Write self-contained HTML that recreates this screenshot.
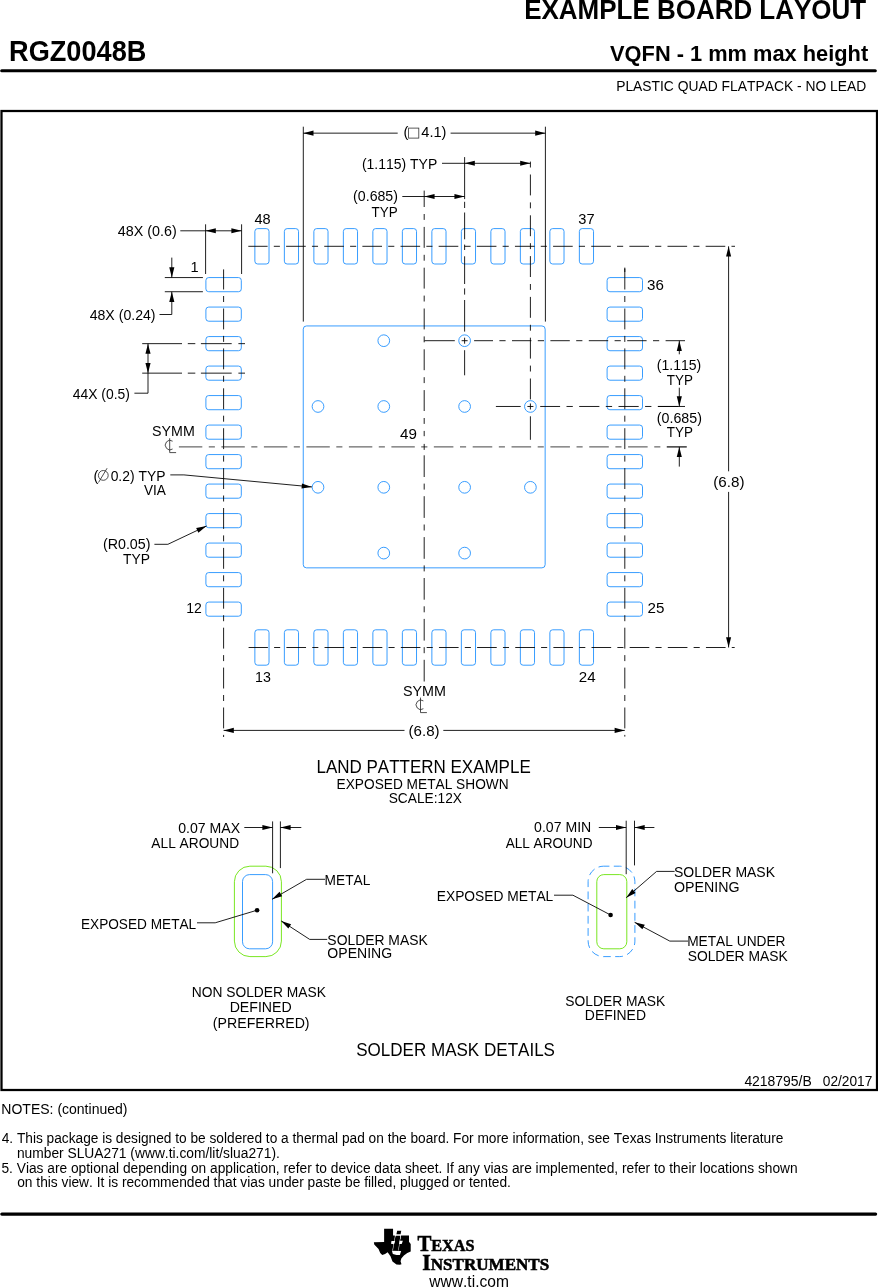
<!DOCTYPE html>
<html lang="en">
<head>
<meta charset="utf-8">
<title>RGZ0048B - Example Board Layout</title>
<style>
html,body{margin:0;padding:0;background:#fff;}
body{width:878px;height:1288px;overflow:hidden;}
svg{display:block;will-change:transform;font-family:"Liberation Sans",sans-serif;font-kerning:none;fill:#000;}
svg text{white-space:pre;}
</style>
</head>
<body>
<svg width="878" height="1288" viewBox="0 0 878 1288">
<rect x="0" y="0" width="878" height="1288" fill="#fff" stroke="none"/>
<text x="524.16" y="18.8" font-size="27.7" font-weight="bold" textLength="341.97" lengthAdjust="spacingAndGlyphs">EXAMPLE BOARD LAYOUT</text>
<text x="9.08" y="60.9" font-size="29" font-weight="bold" textLength="137.25" lengthAdjust="spacingAndGlyphs">RGZ0048B</text>
<text x="610.05" y="60.75" font-size="22.6" font-weight="bold" textLength="258.12" lengthAdjust="spacingAndGlyphs">VQFN - 1 mm max height</text>
<line x1="1.7" y1="70.65" x2="875.3" y2="70.65" stroke="#000" stroke-width="3.05" stroke-linecap="round"/>
<text x="616.16" y="90.7" font-size="14.6" textLength="250.1" lengthAdjust="spacingAndGlyphs">PLASTIC QUAD FLATPACK - NO LEAD</text>
<rect x="1.5" y="111" width="875.5" height="979" fill="none" stroke="#000" stroke-width="2.25"/>
<text x="744.38" y="1085.5" font-size="14.6" textLength="67.35" lengthAdjust="spacingAndGlyphs">4218795/B</text>
<text x="822.76" y="1085.5" font-size="14.6" textLength="49.63" lengthAdjust="spacingAndGlyphs">02/2017</text>
<text x="1.35" y="1113.9" font-size="14.2" textLength="126.12" lengthAdjust="spacingAndGlyphs">NOTES: (continued)</text>
<text x="1.69" y="1142.7" font-size="14" textLength="781.72" lengthAdjust="spacingAndGlyphs">4. This package is designed to be soldered to a thermal pad on the board. For more information, see Texas Instruments literature</text>
<text x="16.88" y="1157.6" font-size="14" textLength="262.98" lengthAdjust="spacingAndGlyphs">number SLUA271 (www.ti.com/lit/slua271).</text>
<text x="1.45" y="1172.7" font-size="14" textLength="796.24" lengthAdjust="spacingAndGlyphs">5. Vias are optional depending on application, refer to device data sheet. If any vias are implemented, refer to their locations shown</text>
<text x="17.22" y="1186.6" font-size="14" textLength="493.73" lengthAdjust="spacingAndGlyphs">on this view. It is recommended that vias under paste be filled, plugged or tented.</text>
<line x1="1.8" y1="1214.1" x2="875.6" y2="1214.1" stroke="#000" stroke-width="3.2" stroke-linecap="round"/>
<polygon points="384.12,1228.83 393.06,1228.83 393.06,1235.38 394.77,1235.38 394.99,1236.92 395.9,1235.67 400.23,1235.67 400.57,1239.08 401.03,1239.08 401.03,1235.38 409,1235.38 409,1241.65 410.71,1243.92 410.71,1251.61 407.29,1253.04 403.88,1255.6 401.31,1258.45 400.57,1261.29 401.49,1264.14 399.89,1264.82 396.47,1264.6 392.49,1261.58 390.49,1256.17 387.65,1252.18 385.08,1253.89 382.24,1254.92 380.24,1253.04 378.54,1249.05 374.26,1244.49 373.87,1242.22 384.12,1242.05" fill="#000"/>
<polygon points="397.16,1230.83 401.26,1230.83 400.57,1234.3 396.47,1234.3" fill="#000"/>
<polygon points="391.46,1241.08 395.11,1241.08 393.97,1244.32 391.01,1243.64" fill="#fff"/>
<polygon points="399.66,1240.79 402.85,1240.79 401.71,1244.1 399.04,1244.1" fill="#fff"/>
<polygon points="391.92,1250.82 401.14,1251.1 399.89,1255.03 396.47,1255.03 392.83,1253.89" fill="#fff"/>
<polygon points="394.94,1236.24 395.45,1236.24 392.89,1250.47 392.37,1250.47" fill="#fff"/>
<polygon points="400.35,1236.24 400.8,1236.24 398.64,1250.47 398.18,1250.47" fill="#fff"/>
<text x="417.4" y="1250.6" font-family='"Liberation Serif", serif' font-weight="bold" stroke="#000" stroke-width="0.55" textLength="57.2" lengthAdjust="spacingAndGlyphs"><tspan font-size="22.6">T</tspan><tspan font-size="17.6">EXAS</tspan></text>
<text x="422.2" y="1270.3" font-family='"Liberation Serif", serif' font-weight="bold" stroke="#000" stroke-width="0.55" textLength="127.0" lengthAdjust="spacingAndGlyphs"><tspan font-size="22.6">I</tspan><tspan font-size="17.6">NSTRUMENTS</tspan></text>
<text x="429.32" y="1286.9" font-size="15.6" textLength="79.6" lengthAdjust="spacingAndGlyphs">www.ti.com</text>
<g id="pads">
<rect x="205.9" y="277.57" width="35.4" height="14.16" rx="2.8" ry="2.8" fill="none" stroke="#1e90ff" stroke-width="0.88"/>
<rect x="607.1" y="277.57" width="35.4" height="14.16" rx="2.8" ry="2.8" fill="none" stroke="#1e90ff" stroke-width="0.88"/>
<rect x="254.87" y="228.6" width="14.16" height="35.4" rx="2.8" ry="2.8" fill="none" stroke="#1e90ff" stroke-width="0.88"/>
<rect x="254.87" y="629.8" width="14.16" height="35.4" rx="2.8" ry="2.8" fill="none" stroke="#1e90ff" stroke-width="0.88"/>
<rect x="205.9" y="307.07" width="35.4" height="14.16" rx="2.8" ry="2.8" fill="none" stroke="#1e90ff" stroke-width="0.88"/>
<rect x="607.1" y="307.07" width="35.4" height="14.16" rx="2.8" ry="2.8" fill="none" stroke="#1e90ff" stroke-width="0.88"/>
<rect x="284.37" y="228.6" width="14.16" height="35.4" rx="2.8" ry="2.8" fill="none" stroke="#1e90ff" stroke-width="0.88"/>
<rect x="284.37" y="629.8" width="14.16" height="35.4" rx="2.8" ry="2.8" fill="none" stroke="#1e90ff" stroke-width="0.88"/>
<rect x="205.9" y="336.57" width="35.4" height="14.16" rx="2.8" ry="2.8" fill="none" stroke="#1e90ff" stroke-width="0.88"/>
<rect x="607.1" y="336.57" width="35.4" height="14.16" rx="2.8" ry="2.8" fill="none" stroke="#1e90ff" stroke-width="0.88"/>
<rect x="313.87" y="228.6" width="14.16" height="35.4" rx="2.8" ry="2.8" fill="none" stroke="#1e90ff" stroke-width="0.88"/>
<rect x="313.87" y="629.8" width="14.16" height="35.4" rx="2.8" ry="2.8" fill="none" stroke="#1e90ff" stroke-width="0.88"/>
<rect x="205.9" y="366.07" width="35.4" height="14.16" rx="2.8" ry="2.8" fill="none" stroke="#1e90ff" stroke-width="0.88"/>
<rect x="607.1" y="366.07" width="35.4" height="14.16" rx="2.8" ry="2.8" fill="none" stroke="#1e90ff" stroke-width="0.88"/>
<rect x="343.37" y="228.6" width="14.16" height="35.4" rx="2.8" ry="2.8" fill="none" stroke="#1e90ff" stroke-width="0.88"/>
<rect x="343.37" y="629.8" width="14.16" height="35.4" rx="2.8" ry="2.8" fill="none" stroke="#1e90ff" stroke-width="0.88"/>
<rect x="205.9" y="395.57" width="35.4" height="14.16" rx="2.8" ry="2.8" fill="none" stroke="#1e90ff" stroke-width="0.88"/>
<rect x="607.1" y="395.57" width="35.4" height="14.16" rx="2.8" ry="2.8" fill="none" stroke="#1e90ff" stroke-width="0.88"/>
<rect x="372.87" y="228.6" width="14.16" height="35.4" rx="2.8" ry="2.8" fill="none" stroke="#1e90ff" stroke-width="0.88"/>
<rect x="372.87" y="629.8" width="14.16" height="35.4" rx="2.8" ry="2.8" fill="none" stroke="#1e90ff" stroke-width="0.88"/>
<rect x="205.9" y="425.07" width="35.4" height="14.16" rx="2.8" ry="2.8" fill="none" stroke="#1e90ff" stroke-width="0.88"/>
<rect x="607.1" y="425.07" width="35.4" height="14.16" rx="2.8" ry="2.8" fill="none" stroke="#1e90ff" stroke-width="0.88"/>
<rect x="402.37" y="228.6" width="14.16" height="35.4" rx="2.8" ry="2.8" fill="none" stroke="#1e90ff" stroke-width="0.88"/>
<rect x="402.37" y="629.8" width="14.16" height="35.4" rx="2.8" ry="2.8" fill="none" stroke="#1e90ff" stroke-width="0.88"/>
<rect x="205.9" y="454.57" width="35.4" height="14.16" rx="2.8" ry="2.8" fill="none" stroke="#1e90ff" stroke-width="0.88"/>
<rect x="607.1" y="454.57" width="35.4" height="14.16" rx="2.8" ry="2.8" fill="none" stroke="#1e90ff" stroke-width="0.88"/>
<rect x="431.87" y="228.6" width="14.16" height="35.4" rx="2.8" ry="2.8" fill="none" stroke="#1e90ff" stroke-width="0.88"/>
<rect x="431.87" y="629.8" width="14.16" height="35.4" rx="2.8" ry="2.8" fill="none" stroke="#1e90ff" stroke-width="0.88"/>
<rect x="205.9" y="484.07" width="35.4" height="14.16" rx="2.8" ry="2.8" fill="none" stroke="#1e90ff" stroke-width="0.88"/>
<rect x="607.1" y="484.07" width="35.4" height="14.16" rx="2.8" ry="2.8" fill="none" stroke="#1e90ff" stroke-width="0.88"/>
<rect x="461.37" y="228.6" width="14.16" height="35.4" rx="2.8" ry="2.8" fill="none" stroke="#1e90ff" stroke-width="0.88"/>
<rect x="461.37" y="629.8" width="14.16" height="35.4" rx="2.8" ry="2.8" fill="none" stroke="#1e90ff" stroke-width="0.88"/>
<rect x="205.9" y="513.57" width="35.4" height="14.16" rx="2.8" ry="2.8" fill="none" stroke="#1e90ff" stroke-width="0.88"/>
<rect x="607.1" y="513.57" width="35.4" height="14.16" rx="2.8" ry="2.8" fill="none" stroke="#1e90ff" stroke-width="0.88"/>
<rect x="490.87" y="228.6" width="14.16" height="35.4" rx="2.8" ry="2.8" fill="none" stroke="#1e90ff" stroke-width="0.88"/>
<rect x="490.87" y="629.8" width="14.16" height="35.4" rx="2.8" ry="2.8" fill="none" stroke="#1e90ff" stroke-width="0.88"/>
<rect x="205.9" y="543.07" width="35.4" height="14.16" rx="2.8" ry="2.8" fill="none" stroke="#1e90ff" stroke-width="0.88"/>
<rect x="607.1" y="543.07" width="35.4" height="14.16" rx="2.8" ry="2.8" fill="none" stroke="#1e90ff" stroke-width="0.88"/>
<rect x="520.37" y="228.6" width="14.16" height="35.4" rx="2.8" ry="2.8" fill="none" stroke="#1e90ff" stroke-width="0.88"/>
<rect x="520.37" y="629.8" width="14.16" height="35.4" rx="2.8" ry="2.8" fill="none" stroke="#1e90ff" stroke-width="0.88"/>
<rect x="205.9" y="572.57" width="35.4" height="14.16" rx="2.8" ry="2.8" fill="none" stroke="#1e90ff" stroke-width="0.88"/>
<rect x="607.1" y="572.57" width="35.4" height="14.16" rx="2.8" ry="2.8" fill="none" stroke="#1e90ff" stroke-width="0.88"/>
<rect x="549.87" y="228.6" width="14.16" height="35.4" rx="2.8" ry="2.8" fill="none" stroke="#1e90ff" stroke-width="0.88"/>
<rect x="549.87" y="629.8" width="14.16" height="35.4" rx="2.8" ry="2.8" fill="none" stroke="#1e90ff" stroke-width="0.88"/>
<rect x="205.9" y="602.07" width="35.4" height="14.16" rx="2.8" ry="2.8" fill="none" stroke="#1e90ff" stroke-width="0.88"/>
<rect x="607.1" y="602.07" width="35.4" height="14.16" rx="2.8" ry="2.8" fill="none" stroke="#1e90ff" stroke-width="0.88"/>
<rect x="579.37" y="228.6" width="14.16" height="35.4" rx="2.8" ry="2.8" fill="none" stroke="#1e90ff" stroke-width="0.88"/>
<rect x="579.37" y="629.8" width="14.16" height="35.4" rx="2.8" ry="2.8" fill="none" stroke="#1e90ff" stroke-width="0.88"/>
<rect x="303.25" y="325.95" width="241.9" height="241.9" rx="3.2" ry="3.2" fill="none" stroke="#1e90ff" stroke-width="0.88"/>
<circle cx="383.78" cy="340.7" r="5.85" fill="none" stroke="#1e90ff" stroke-width="0.88"/>
<circle cx="464.62" cy="340.7" r="5.85" fill="none" stroke="#1e90ff" stroke-width="0.88"/>
<circle cx="318" cy="406.48" r="5.85" fill="none" stroke="#1e90ff" stroke-width="0.88"/>
<circle cx="383.78" cy="406.48" r="5.85" fill="none" stroke="#1e90ff" stroke-width="0.88"/>
<circle cx="464.62" cy="406.48" r="5.85" fill="none" stroke="#1e90ff" stroke-width="0.88"/>
<circle cx="530.4" cy="406.48" r="5.85" fill="none" stroke="#1e90ff" stroke-width="0.88"/>
<circle cx="318" cy="487.31" r="5.85" fill="none" stroke="#1e90ff" stroke-width="0.88"/>
<circle cx="383.78" cy="487.31" r="5.85" fill="none" stroke="#1e90ff" stroke-width="0.88"/>
<circle cx="464.62" cy="487.31" r="5.85" fill="none" stroke="#1e90ff" stroke-width="0.88"/>
<circle cx="530.4" cy="487.31" r="5.85" fill="none" stroke="#1e90ff" stroke-width="0.88"/>
<circle cx="383.78" cy="553.1" r="5.85" fill="none" stroke="#1e90ff" stroke-width="0.88"/>
<circle cx="464.62" cy="553.1" r="5.85" fill="none" stroke="#1e90ff" stroke-width="0.88"/>
</g>
<g id="lines">
<path d="M248.3 246.3H267.6M273.8 246.3H279.9M286.1 246.3H305.74M311.94 246.3H318.04M324.24 246.3H343.88M350.08 246.3H356.18M362.38 246.3H382.02M388.22 246.3H394.32M400.52 246.3H420.16M426.36 246.3H432.46M438.66 246.3H458.3M464.5 246.3H470.6M476.8 246.3H496.44M502.64 246.3H508.74M514.94 246.3H534.58M540.78 246.3H546.88M553.08 246.3H572.72M578.92 246.3H585.02M591.22 246.3H610.86M617.06 246.3H623.16M629.36 246.3H649M655.2 246.3H661.3M667.5 246.3H687.14M693.34 246.3H699.44M705.64 246.3H725.28M731.48 246.3H735" fill="none" stroke="#000" stroke-width="0.88"/>
<path d="M248.6 647.5H267.9M274.1 647.5H280.2M286.4 647.5H306.04M312.24 647.5H318.34M324.54 647.5H344.18M350.38 647.5H356.48M362.68 647.5H382.32M388.52 647.5H394.62M400.82 647.5H420.46M426.66 647.5H432.76M438.96 647.5H458.6M464.8 647.5H470.9M477.1 647.5H496.74M502.94 647.5H509.04M515.24 647.5H534.88M541.08 647.5H547.18M553.38 647.5H573.02M579.22 647.5H585.32M591.52 647.5H611.16M617.36 647.5H623.46M629.66 647.5H649.3M655.5 647.5H661.6M667.8 647.5H687.44M693.64 647.5H699.74M705.94 647.5H725.58M731.78 647.5H734.7" fill="none" stroke="#000" stroke-width="0.88"/>
<path d="M223.6 269.4V289.5M223.6 296V302M223.6 308.5V329.4M223.6 335.9V341.9M223.6 348.4V369.3M223.6 375.8V381.8M223.6 388.3V409.2M223.6 415.7V421.7M223.6 428.2V449.1M223.6 455.6V461.6M223.6 468.1V489M223.6 495.5V501.5M223.6 508V528.9M223.6 535.4V541.4M223.6 547.9V568.8M223.6 575.3V581.3M223.6 587.8V608.7M223.6 615.2V621.2M223.6 627.7V648.6M223.6 655.1V661.1M223.6 667.6V688.5M223.6 695V701M223.6 707.5V728.4M223.6 734.9V737" fill="none" stroke="#000" stroke-width="0.88"/>
<path d="M624.8 268.6V289.5M624.8 296V302M624.8 308.5V329.4M624.8 335.9V341.9M624.8 348.4V369.3M624.8 375.8V381.8M624.8 388.3V409.2M624.8 415.7V421.7M624.8 428.2V449.1M624.8 455.6V461.6M624.8 468.1V489M624.8 495.5V501.5M624.8 508V528.9M624.8 535.4V541.4M624.8 547.9V568.8M624.8 575.3V581.3M624.8 587.8V608.7M624.8 615.2V621.2M624.8 627.7V648.6M624.8 655.1V661.1M624.8 667.6V688.5M624.8 695V701M624.8 707.5V728.4M624.8 734.9V736.6" fill="none" stroke="#000" stroke-width="0.88"/>
<line x1="624.8" y1="267.6" x2="624.8" y2="272" stroke="#000" stroke-width="0.88"/>
<path d="M178.9 446.9H202.3M208.8 446.9H214.9M221.4 446.9H244.8M251.3 446.9H257.4M263.9 446.9H287.3M293.8 446.9H299.9M306.4 446.9H329.8M336.3 446.9H342.4M348.9 446.9H372.3M378.8 446.9H384.9M391.4 446.9H414.8" fill="none" stroke="#1a1a1a" stroke-width="0.82"/>
<line x1="421.2" y1="446.9" x2="427.4" y2="446.9" stroke="#1a1a1a" stroke-width="0.82"/>
<path d="M433.85 446.9H453.4M460 446.9H466.1M472.7 446.9H492.25M498.85 446.9H504.95M511.55 446.9H531.1M537.7 446.9H543.8M550.4 446.9H569.95M576.55 446.9H582.65M589.25 446.9H608.8M615.4 446.9H621.5M628.1 446.9H647.65M654.25 446.9H660.35M666.95 446.9H686.5" fill="none" stroke="#1a1a1a" stroke-width="0.82"/>
<line x1="666.7" y1="446.9" x2="686.9" y2="446.9" stroke="#1a1a1a" stroke-width="0.82"/>
<path d="M424.2 190.6V207M424.2 214V219.9M424.2 226.9V247.8M424.2 254.8V260.7M424.2 267.7V288.6M424.2 295.6V301.5M424.2 308.5V329.4M424.2 336.4V342.3M424.2 349.3V370.2M424.2 377.2V383.1M424.2 390.1V411M424.2 418V423.9M424.2 430.9V436.2" fill="none" stroke="#000" stroke-width="0.88"/>
<line x1="424.2" y1="443.9" x2="424.2" y2="449.9" stroke="#000" stroke-width="0.88"/>
<path d="M424.2 455.3V477M424.2 483.6V489.6M424.2 496.2V517.9M424.2 524.5V530.5M424.2 537.1V558.8M424.2 565.4V571.4M424.2 578V599.7M424.2 606.3V612.3M424.2 618.9V640.6M424.2 647.2V653.2M424.2 659.8V681.5" fill="none" stroke="#000" stroke-width="0.88"/>
<line x1="303.3" y1="126.7" x2="303.3" y2="321.6" stroke="#000" stroke-width="0.88"/>
<line x1="545.4" y1="126.7" x2="545.4" y2="321.6" stroke="#000" stroke-width="0.88"/>
<line x1="303.3" y1="133.15" x2="397.7" y2="133.15" stroke="#000" stroke-width="0.88"/>
<line x1="450.6" y1="133.15" x2="545.4" y2="133.15" stroke="#000" stroke-width="0.88"/>
<polygon points="303.3,133.15 313.5,130.6 313.5,135.7" fill="#000"/>
<polygon points="545.4,133.15 535.2,135.7 535.2,130.6" fill="#000"/>
<path d="M464.62 157.1V199.1M464.62 201.8V208M464.62 212.5V239.3M464.62 244.6V250M464.62 256.3V284M464.62 288.4V294.6M464.62 300V331.6" fill="none" stroke="#000" stroke-width="0.88"/>
<path d="M530.4 161.6V167.5M530.4 174.5V195.4M530.4 202.4V208.3M530.4 215.3V236.2M530.4 243.2V249.1M530.4 256.1V277M530.4 284V289.9M530.4 296.9V317.8M530.4 324.8V330.7M530.4 337.7V358.6M530.4 365.6V371.5M530.4 378.5V399.4" fill="none" stroke="#000" stroke-width="0.88"/>
<line x1="442" y1="163.3" x2="530.4" y2="163.3" stroke="#000" stroke-width="0.88"/>
<polygon points="464.62,163.3 474.81,160.75 474.81,165.85" fill="#000"/>
<polygon points="530.4,163.3 520.2,165.85 520.2,160.75" fill="#000"/>
<line x1="402.3" y1="196.5" x2="464.62" y2="196.5" stroke="#000" stroke-width="0.88"/>
<polygon points="424.35,196.5 434.55,193.95 434.55,199.05" fill="#000"/>
<polygon points="464.62,196.5 454.42,199.05 454.42,193.95" fill="#000"/>
<line x1="424.4" y1="340.7" x2="454.8" y2="340.7" stroke="#000" stroke-width="0.88"/>
<path d="M474.1 340.7H493M499.4 340.7H505.6M512 340.7H531.4M537.8 340.7H544M550.4 340.7H569.8M576.2 340.7H582.4M588.8 340.7H608.2M614.6 340.7H620.8M627.2 340.7H646.6M653 340.7H659.2M665.6 340.7H685" fill="none" stroke="#000" stroke-width="0.88"/>
<line x1="464.62" y1="350.2" x2="464.62" y2="375.3" stroke="#000" stroke-width="0.88"/>
<line x1="461.62" y1="340.7" x2="467.62" y2="340.7" stroke="#000" stroke-width="0.9"/>
<line x1="464.62" y1="337.7" x2="464.62" y2="343.7" stroke="#000" stroke-width="0.9"/>
<line x1="495.9" y1="406.48" x2="520.7" y2="406.48" stroke="#000" stroke-width="0.88"/>
<path d="M540.2 406.48H560.1M566.5 406.48H572.8M579.2 406.48H599.4M605.8 406.48H612.1M618.5 406.48H638.7M645.1 406.48H651.4M657.8 406.48H678M684.4 406.48H684.9" fill="none" stroke="#000" stroke-width="0.88"/>
<line x1="658" y1="406.48" x2="684.9" y2="406.48" stroke="#000" stroke-width="0.88"/>
<line x1="530.4" y1="416.3" x2="530.4" y2="439.8" stroke="#000" stroke-width="0.88"/>
<line x1="527.4" y1="406.48" x2="533.4" y2="406.48" stroke="#000" stroke-width="0.9"/>
<line x1="530.4" y1="403.48" x2="530.4" y2="409.48" stroke="#000" stroke-width="0.9"/>
<line x1="679.3" y1="340.7" x2="679.3" y2="354.3" stroke="#000" stroke-width="0.88"/>
<polygon points="679.3,340.7 681.85,350.9 676.75,350.9" fill="#000"/>
<line x1="679.3" y1="387.7" x2="679.3" y2="406.48" stroke="#000" stroke-width="0.88"/>
<polygon points="679.3,406.48 676.75,396.28 681.85,396.28" fill="#000"/>
<line x1="679.3" y1="446.9" x2="679.3" y2="466.6" stroke="#000" stroke-width="0.88"/>
<polygon points="679.3,446.9 681.85,457.1 676.75,457.1" fill="#000"/>
<line x1="728.6" y1="246.3" x2="728.6" y2="471.3" stroke="#000" stroke-width="0.88"/>
<line x1="728.6" y1="491.9" x2="728.6" y2="647.5" stroke="#000" stroke-width="0.88"/>
<polygon points="728.6,246.3 731.15,256.5 726.05,256.5" fill="#000"/>
<polygon points="728.6,647.5 726.05,637.3 731.15,637.3" fill="#000"/>
<line x1="223.6" y1="730.4" x2="404.5" y2="730.4" stroke="#000" stroke-width="0.88"/>
<line x1="443.3" y1="730.4" x2="624.8" y2="730.4" stroke="#000" stroke-width="0.88"/>
<polygon points="223.6,730.4 233.8,727.85 233.8,732.95" fill="#000"/>
<polygon points="624.8,730.4 614.6,732.95 614.6,727.85" fill="#000"/>
<line x1="205.6" y1="224.3" x2="205.6" y2="274" stroke="#000" stroke-width="0.88"/>
<line x1="241.6" y1="224.3" x2="241.6" y2="274" stroke="#000" stroke-width="0.88"/>
<line x1="180.3" y1="230.8" x2="241.6" y2="230.8" stroke="#000" stroke-width="0.88"/>
<polygon points="205.6,230.8 215.8,228.25 215.8,233.35" fill="#000"/>
<polygon points="241.6,230.8 231.4,233.35 231.4,228.25" fill="#000"/>
<line x1="164.8" y1="277.57" x2="202.9" y2="277.57" stroke="#000" stroke-width="0.88"/>
<line x1="164.8" y1="291.73" x2="202.9" y2="291.73" stroke="#000" stroke-width="0.88"/>
<line x1="171.8" y1="257.6" x2="171.8" y2="277.57" stroke="#000" stroke-width="0.88"/>
<polygon points="171.8,277.57 169.25,267.37 174.35,267.37" fill="#000"/>
<polyline points="171.8,291.73 171.8,314.5 159.5,314.5" fill="none" stroke="#000" stroke-width="0.88"/>
<polygon points="171.8,291.73 174.35,301.93 169.25,301.93" fill="#000"/>
<path d="M142.2 343.65H182M187.8 343.65H195.3M200.9 343.65H231.7M238.4 343.65H245" fill="none" stroke="#000" stroke-width="0.88"/>
<path d="M142.2 373.15H182M187.8 373.15H195.3M200.9 373.15H231.7M238.4 373.15H245" fill="none" stroke="#000" stroke-width="0.88"/>
<polyline points="148,343.65 148,393.2 134.4,393.2" fill="none" stroke="#000" stroke-width="0.88"/>
<polygon points="148,343.65 150.55,353.85 145.45,353.85" fill="#000"/>
<polygon points="148,373.15 145.45,362.95 150.55,362.95" fill="#000"/>
<polyline points="170.3,474.9 183.9,474.9 311.9,486.9" fill="none" stroke="#000" stroke-width="0.88"/>
<polygon points="311.9,486.9 301.51,488.49 301.98,483.41" fill="#000"/>
<polyline points="154.4,544.3 167.9,544.3 206.5,526" fill="none" stroke="#000" stroke-width="0.88"/>
<polygon points="206.5,526 198.38,532.67 196.19,528.07" fill="#000"/>
</g>
<g id="labels">
<text x="403.4" y="137.4" font-size="14.6">(</text>
<rect x="408.6" y="128.1" width="10.2" height="10" fill="none" stroke="#333" stroke-width="0.8"/>
<text x="421.26" y="137.4" font-size="14.6" textLength="25.24" lengthAdjust="spacingAndGlyphs">4.1)</text>
<text x="361.93" y="168.5" font-size="14.6" textLength="75.3" lengthAdjust="spacingAndGlyphs">(1.115) TYP</text>
<text x="353.12" y="201.1" font-size="14.6" textLength="44.86" lengthAdjust="spacingAndGlyphs">(0.685)</text>
<text x="371.59" y="216.6" font-size="14.6" textLength="26.12" lengthAdjust="spacingAndGlyphs">TYP</text>
<text x="254.47" y="223.8" font-size="14.6" textLength="16.17" lengthAdjust="spacingAndGlyphs">48</text>
<text x="578.24" y="223.8" font-size="14.6" textLength="16.29" lengthAdjust="spacingAndGlyphs">37</text>
<text x="117.77" y="235.6" font-size="14.6" textLength="58.92" lengthAdjust="spacingAndGlyphs">48X (0.6)</text>
<text x="190.4" y="271.9" font-size="14.6">1</text>
<text x="89.68" y="319.8" font-size="14.6" textLength="65.9" lengthAdjust="spacingAndGlyphs">48X (0.24)</text>
<text x="72.68" y="399" font-size="14.6" textLength="57.18" lengthAdjust="spacingAndGlyphs">44X (0.5)</text>
<text x="152.05" y="435.8" font-size="14.6" textLength="42.71" lengthAdjust="spacingAndGlyphs">SYMM</text>
<path d="M172.6 441.2A4.6 4.8 0 1 0 172.6 449" fill="none" stroke="#222" stroke-width="0.8"/>
<path d="M169.7 438.2V452.6H176.1" fill="none" stroke="#222" stroke-width="0.8"/>
<text x="93.4" y="480.6" font-size="14.6">(</text>
<circle cx="103.3" cy="475.4" r="4.9" fill="none" stroke="#222" stroke-width="0.8"/>
<line x1="98.5" y1="482.5" x2="107.1" y2="468.2" stroke="#222" stroke-width="0.8"/>
<text x="110.66" y="480.6" font-size="14.6" textLength="54.77" lengthAdjust="spacingAndGlyphs">0.2) TYP</text>
<text x="143.94" y="494.6" font-size="14.6" textLength="21.99" lengthAdjust="spacingAndGlyphs">VIA</text>
<text x="102.92" y="549.1" font-size="14.6" textLength="47.57" lengthAdjust="spacingAndGlyphs">(R0.05)</text>
<text x="122.99" y="563.5" font-size="14.6" textLength="26.94" lengthAdjust="spacingAndGlyphs">TYP</text>
<text x="186.13" y="613.1" font-size="14.6" textLength="15.57" lengthAdjust="spacingAndGlyphs">12</text>
<text x="255.02" y="681.5" font-size="14.6" textLength="15.81" lengthAdjust="spacingAndGlyphs">13</text>
<text x="578.74" y="681.5" font-size="14.6" textLength="16.8" lengthAdjust="spacingAndGlyphs">24</text>
<text x="647.59" y="613.3" font-size="14.6" textLength="16.89" lengthAdjust="spacingAndGlyphs">25</text>
<text x="647.12" y="289.5" font-size="14.6" textLength="16.84" lengthAdjust="spacingAndGlyphs">36</text>
<text x="400.04" y="438.5" font-size="14.6" textLength="16.89" lengthAdjust="spacingAndGlyphs">49</text>
<text x="656.83" y="370.1" font-size="14.6" textLength="44.44" lengthAdjust="spacingAndGlyphs">(1.115)</text>
<text x="666.79" y="384.7" font-size="14.6" textLength="26.12" lengthAdjust="spacingAndGlyphs">TYP</text>
<text x="656.82" y="423.3" font-size="14.6" textLength="45.06" lengthAdjust="spacingAndGlyphs">(0.685)</text>
<text x="666.79" y="437.4" font-size="14.6" textLength="26.12" lengthAdjust="spacingAndGlyphs">TYP</text>
<text x="713.29" y="487" font-size="14.6" textLength="31.22" lengthAdjust="spacingAndGlyphs">(6.8)</text>
<text x="408.56" y="735.6" font-size="14.6" textLength="31.07" lengthAdjust="spacingAndGlyphs">(6.8)</text>
<text x="402.95" y="695.7" font-size="14.6" textLength="43.03" lengthAdjust="spacingAndGlyphs">SYMM</text>
<path d="M423.4 700.9A4.6 4.8 0 1 0 423.4 708.7" fill="none" stroke="#222" stroke-width="0.8"/>
<path d="M420.5 697.6V712.6H426.9" fill="none" stroke="#222" stroke-width="0.8"/>
<text x="316.51" y="772.7" font-size="18.3" textLength="214.22" lengthAdjust="spacingAndGlyphs">LAND PATTERN EXAMPLE</text>
<text x="336.58" y="788.5" font-size="14.6" textLength="172.04" lengthAdjust="spacingAndGlyphs">EXPOSED METAL SHOWN</text>
<text x="388.68" y="803.3" font-size="14.6" textLength="73.31" lengthAdjust="spacingAndGlyphs">SCALE:12X</text>
</g>
<g id="details">
<rect x="234.4" y="866.2" width="47" height="90.4" rx="15.5" ry="15.5" fill="none" stroke="#68e205" stroke-width="0.88"/>
<rect x="242.5" y="874.6" width="30.1" height="74.2" rx="7" ry="7" fill="none" stroke="#1e90ff" stroke-width="0.88"/>
<line x1="272.6" y1="821.4" x2="272.6" y2="873.3" stroke="#000" stroke-width="0.88"/>
<line x1="280.4" y1="821.4" x2="280.4" y2="868.1" stroke="#000" stroke-width="0.88"/>
<line x1="244.3" y1="827.5" x2="272.6" y2="827.5" stroke="#000" stroke-width="0.88"/>
<polygon points="272.6,827.5 262.4,830.05 262.4,824.95" fill="#000"/>
<line x1="280.4" y1="827.5" x2="301.3" y2="827.5" stroke="#000" stroke-width="0.88"/>
<polygon points="280.4,827.5 290.6,824.95 290.6,830.05" fill="#000"/>
<text x="178.15" y="832.8" font-size="14.6" textLength="61.95" lengthAdjust="spacingAndGlyphs">0.07 MAX</text>
<text x="151.37" y="847.6" font-size="14.6" textLength="87.68" lengthAdjust="spacingAndGlyphs">ALL AROUND</text>
<circle cx="257.1" cy="910.2" r="2.3" fill="#000" stroke="#000" stroke-width="0"/>
<polyline points="257.1,910.2 215.2,922.8 197,922.8" fill="none" stroke="#000" stroke-width="0.88"/>
<text x="80.98" y="928.6" font-size="14.6" textLength="115.17" lengthAdjust="spacingAndGlyphs">EXPOSED METAL</text>
<polyline points="272.1,899.3 306.6,879.3 325,879.3" fill="none" stroke="#000" stroke-width="0.88"/>
<polygon points="272.1,899.3 279.54,891.87 282.16,896.24" fill="#000"/>
<text x="324.58" y="884.8" font-size="14.6" textLength="45.68" lengthAdjust="spacingAndGlyphs">METAL</text>
<polyline points="281.2,920.9 309.7,939.4 327.2,939.4" fill="none" stroke="#000" stroke-width="0.88"/>
<polygon points="281.2,920.9 291.14,924.31 288.37,928.59" fill="#000"/>
<text x="327.37" y="944.7" font-size="14.6" textLength="100.39" lengthAdjust="spacingAndGlyphs">SOLDER MASK</text>
<text x="327.33" y="957.9" font-size="14.6" textLength="64.82" lengthAdjust="spacingAndGlyphs">OPENING</text>
<text x="191.77" y="997" font-size="14.6" textLength="134.19" lengthAdjust="spacingAndGlyphs">NON SOLDER MASK</text>
<text x="229.64" y="1012.1" font-size="14.6" textLength="62.04" lengthAdjust="spacingAndGlyphs">DEFINED</text>
<text x="212.82" y="1027.6" font-size="14.6" textLength="96.76" lengthAdjust="spacingAndGlyphs">(PREFERRED)</text>
<rect x="588.1" y="866.2" width="46.8" height="90.4" rx="15.5" ry="15.5" fill="none" stroke="#1e90ff" stroke-width="0.88" stroke-dasharray="7.8 4.4" stroke-dashoffset="2"/>
<rect x="596.8" y="874.6" width="30" height="74.2" rx="7" ry="7" fill="none" stroke="#68e205" stroke-width="0.88"/>
<line x1="626.2" y1="820.7" x2="626.2" y2="874.2" stroke="#000" stroke-width="0.88"/>
<line x1="634.5" y1="820.7" x2="634.5" y2="865.4" stroke="#000" stroke-width="0.88"/>
<line x1="598.8" y1="827.5" x2="626.2" y2="827.5" stroke="#000" stroke-width="0.88"/>
<polygon points="626.2,827.5 616,830.05 616,824.95" fill="#000"/>
<line x1="634.5" y1="827.5" x2="654.4" y2="827.5" stroke="#000" stroke-width="0.88"/>
<polygon points="634.5,827.5 644.7,824.95 644.7,830.05" fill="#000"/>
<text x="534.05" y="832.4" font-size="14.6" textLength="57.2" lengthAdjust="spacingAndGlyphs">0.07 MIN</text>
<text x="505.67" y="847.7" font-size="14.6" textLength="86.78" lengthAdjust="spacingAndGlyphs">ALL AROUND</text>
<text x="436.77" y="900.7" font-size="14.6" textLength="116.49" lengthAdjust="spacingAndGlyphs">EXPOSED METAL</text>
<circle cx="610.6" cy="915" r="2.3" fill="#000" stroke="#000" stroke-width="0"/>
<polyline points="554,895.2 572.9,895.2 610.6,915" fill="none" stroke="#000" stroke-width="0.88"/>
<polyline points="626.2,897.7 656.6,871.4 674.6,871.4" fill="none" stroke="#000" stroke-width="0.88"/>
<polygon points="626.2,897.7 632.25,889.1 635.58,892.95" fill="#000"/>
<text x="673.96" y="876.8" font-size="14.6" textLength="101.09" lengthAdjust="spacingAndGlyphs">SOLDER MASK</text>
<text x="673.93" y="891.5" font-size="14.6" textLength="65.53" lengthAdjust="spacingAndGlyphs">OPENING</text>
<polyline points="634.6,922.3 669.8,941.1 688,941.1" fill="none" stroke="#000" stroke-width="0.88"/>
<polygon points="634.6,922.3 644.8,924.86 642.4,929.35" fill="#000"/>
<text x="687.17" y="946.4" font-size="14.6" textLength="98.36" lengthAdjust="spacingAndGlyphs">METAL UNDER</text>
<text x="687.67" y="961.2" font-size="14.6" textLength="100.08" lengthAdjust="spacingAndGlyphs">SOLDER MASK</text>
<text x="565.27" y="1005.6" font-size="14.6" textLength="99.88" lengthAdjust="spacingAndGlyphs">SOLDER MASK</text>
<text x="584.86" y="1020.1" font-size="14.6" textLength="61.11" lengthAdjust="spacingAndGlyphs">DEFINED</text>
<text x="356.13" y="1055.8" font-size="18.3" textLength="198.86" lengthAdjust="spacingAndGlyphs">SOLDER MASK DETAILS</text>
</g>
</svg>
</body>
</html>
